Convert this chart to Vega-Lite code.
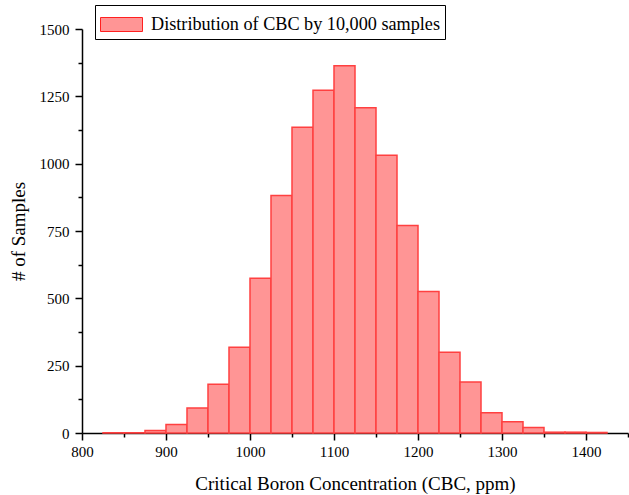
{
  "$schema": "https://vega.github.io/schema/vega-lite/v6.json",
  "autosize": "none",
  "width": 546,
  "height": 404,
  "padding": {"left": 82, "top": 29, "right": 1, "bottom": 62},
  "background": "white",
  "config": {
    "view": {"stroke": null},
    "font": "Liberation Serif",
    "axis": {"grid": false, "domainColor": "black", "domainWidth": 1.5, "tickColor": "black", "tickWidth": 1.5,
      "labelFont": "Liberation Serif", "labelFontSize": 15, "labelColor": "black",
      "titleFont": "Liberation Serif", "titleFontSize": 19, "titleFontWeight": "normal", "titleColor": "black"}
  },
  "data": {"values": [
    {"start": 825, "end": 850, "count": 1},
    {"start": 850, "end": 875, "count": 1},
    {"start": 875, "end": 900, "count": 9},
    {"start": 900, "end": 925, "count": 32},
    {"start": 925, "end": 950, "count": 93},
    {"start": 950, "end": 975, "count": 181},
    {"start": 975, "end": 1000, "count": 318},
    {"start": 1000, "end": 1025, "count": 575},
    {"start": 1025, "end": 1050, "count": 882},
    {"start": 1050, "end": 1075, "count": 1135},
    {"start": 1075, "end": 1100, "count": 1273},
    {"start": 1100, "end": 1125, "count": 1364},
    {"start": 1125, "end": 1150, "count": 1208},
    {"start": 1150, "end": 1175, "count": 1031},
    {"start": 1175, "end": 1200, "count": 770},
    {"start": 1200, "end": 1225, "count": 525},
    {"start": 1225, "end": 1250, "count": 300},
    {"start": 1250, "end": 1275, "count": 189},
    {"start": 1275, "end": 1300, "count": 75},
    {"start": 1300, "end": 1325, "count": 42},
    {"start": 1325, "end": 1350, "count": 20},
    {"start": 1350, "end": 1375, "count": 3},
    {"start": 1375, "end": 1400, "count": 3},
    {"start": 1400, "end": 1425, "count": 2}
  ]},
  "mark": {"type": "bar", "stroke": "#ff4040", "strokeWidth": 1.5, "fillOpacity": 1},
  "encoding": {
    "x": {"field": "start", "type": "quantitative",
      "scale": {"domain": [800, 1450], "nice": false, "zero": false},
      "axis": {"title": "Critical Boron Concentration (CBC, ppm)", "format": "d",
        "values": [800, 850, 900, 950, 1000, 1050, 1100, 1150, 1200, 1250, 1300, 1350, 1400, 1450],
        "labelExpr": "datum.value % 100 == 0 ? datum.label : ''",
        "labelFont": "Liberation Serif", "labelFontSize": 15,
        "tickSize": {"condition": {"test": "datum.value % 100 == 0", "value": 7}, "value": 4},
        "labelPadding": 4, "titlePadding": 15, "labelFlush": false, "labelOverlap": false}},
    "x2": {"field": "end"},
    "y": {"field": "count", "type": "quantitative",
      "scale": {"domain": [0, 1500], "nice": false},
      "axis": {"title": "# of Samples",
        "values": [0, 125, 250, 375, 500, 625, 750, 875, 1000, 1125, 1250, 1375, 1500],
        "labelExpr": "datum.value % 250 == 0 ? datum.label : ''",
        "format": "d",
        "labelFont": "Liberation Serif", "labelFontSize": 15,
        "tickSize": {"condition": {"test": "datum.value % 250 == 0", "value": 7}, "value": 4},
        "labelPadding": 6, "titlePadding": 11, "labelFlush": false, "labelOverlap": false}},
    "y2": {"datum": 0},
    "color": {"datum": "Distribution of CBC by 10,000 samples", "type": "nominal",
      "scale": {"range": ["#ff9595"]},
      "legend": {"title": null, "orient": "none", "legendX": 13, "legendY": -24,
        "strokeColor": "black", "fillColor": "white", "padding": 5,
        "symbolType": "M-1,-0.5H2V0.5H-1Z", "symbolSize": 784,
        "symbolStrokeColor": "#ff2020", "symbolStrokeWidth": 1, "symbolOpacity": 1,
        "labelFont": "Liberation Serif", "labelFontSize": 18.2, "labelColor": "black", "labelOffset": 22,
        "labelLimit": 400}}
  }
}
